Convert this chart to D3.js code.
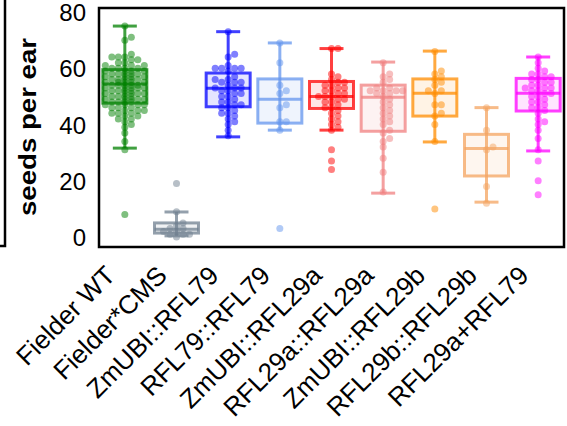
<!DOCTYPE html>
<html>
<head>
<meta charset="utf-8">
<script src="https://cdn.jsdelivr.net/npm/d3@7"></script>
<style>
  body { margin: 0; background: #fff; }
  text { font-family: "Liberation Sans", Arial, sans-serif; fill: #000; }
</style>
</head>
<body>
<svg class="seed_graph" width="567" height="426"></svg>
<script>
var labels = ['Fielder WT', 'Fielder*CMS', 'ZmUBI::RFL79', 'RFL79::RFL79', 'ZmUBI::RFL29a',
  'RFL29a::RFL29a', 'ZmUBI::RFL29b', 'RFL29b::RFL29b', 'RFL29a+RFL79'];
var colors = ['#008000', '#708090', '#0000ff', '#6495ed', '#ff0000',
  '#f08080', '#ff8c00', '#f4a460', '#ff00ff'];
var yTicks = [0, 20, 40, 60, 80];

// box stats
var whiskLo = [31.6, 0.4, 35.6, 38, 38, 15.6, 33.8, 12.4, 30.6];
var q1      = [47.6, 1.4, 46.3, 40.5, 45.7, 37.6, 43, 21.7, 44.8];
var median  = [54.4, 2.8, 52.9, 49, 50, 49.7, 51.1, 31.5, 51.1];
var q3      = [59.5, 5, 58.3, 56.2, 55.3, 54, 56.2, 36.5, 56.4];
var whiskHi = [75, 8.9, 73, 69, 67, 62.2, 66.1, 46, 64];

// seeds per ear, one array per line
var ptsWT = [75, 71, 70, 65, 64, 64, 64, 63, 63, 62, 62, 61, 61, 61, 60, 60, 60, 60, 59, 59, 59,
  59, 58, 58, 58, 58, 58, 57, 57, 57, 57, 56, 56, 56, 56, 56, 55, 55, 55, 55, 55, 54, 54, 54,
  54, 54, 53, 53, 53, 53, 53, 52, 52, 52, 52, 51, 51, 51, 51, 51, 50, 50, 50, 50, 49, 49, 49,
  49, 49, 48, 48, 48, 48, 47, 47, 47, 47, 46, 46, 46, 45, 45, 45, 44, 44, 44, 43, 43, 42, 42,
  41, 40, 39, 37, 34, 31, 8];
var ptsCMS = [19, 9, 5, 4, 3, 3, 2, 2, 1, 1, 1, 0];
var ptsUbi79 = [73, 65, 64, 61, 60, 60, 60, 60, 59, 57, 56, 56, 55, 55, 55, 54, 53, 53, 53, 52,
  52, 51, 51, 50, 50, 49, 48, 48, 47, 47, 46, 46, 45, 44, 44, 43, 42, 41, 40, 38, 36];
var pts79 = [69, 62, 54, 52, 51, 47, 46, 41, 41, 38, 3];
var ptsUbi29a = [67, 67, 58, 57, 56, 55, 55, 54, 54, 53, 53, 52, 52, 51, 51, 50, 50, 50, 49, 49,
  48, 48, 47, 46, 46, 45, 44, 43, 42, 41, 40, 39, 38, 31, 27, 24];
var pts29a = [62, 58, 57, 56, 55, 53, 53, 52, 52, 52, 52, 51, 51, 50, 49, 48, 47, 46, 45, 44,
  43, 42, 41, 40, 38, 37, 35, 34, 32, 28, 23, 16];
var ptsUbi29b = [66, 59, 58, 57, 56, 55, 54, 52, 52, 51, 47, 47, 44, 43, 40, 34, 10];
var pts29b = [46, 38, 32, 31, 18, 12];
var pts29a79 = [64, 62, 60, 59, 58, 58, 57, 57, 56, 56, 55, 55, 54, 54, 53, 53, 53, 52, 52, 51,
  51, 50, 50, 49, 48, 48, 47, 46, 46, 45, 44, 42, 41, 40, 38, 35, 31, 27, 20, 15];

var points = [ptsWT, ptsCMS, ptsUbi79, pts79, ptsUbi29a, pts29a, ptsUbi29b, pts29b, pts29a79];

var frame = {left: 99, right: 564, top: 8, bottom: 247};
var boxWidth = 44,
    capWidth = 24,
    r = 3.5;

var svg = d3.select('.seed_graph');

var x = d3.scaleBand()
    .domain(labels)
    .range([frame.left, frame.right]);

var y = d3.scaleLinear()
    .domain([0, 80])
    .range([237, 12]);

// edge of the neighbouring panel
svg.append('path')
    .attr('d', 'M0,246H5V0')
    .attr('fill', 'none')
    .attr('stroke', '#000')
    .attr('stroke-width', 2.5);

// simple swarm: columns of fixed spacing, first free slot wins
function swarm(values) {
  var step = 6.5, minGap = 5.2, slots = [0, 1, -1, 2, -2, 3, -3];
  var placed = [];
  values.slice().sort(function(a, b) { return a - b; }).forEach(function(v) {
    var py = y(v), best = null, bestD = -1;
    for (var k = 0; k < slots.length; k++) {
      var px = slots[k] * step;
      var d = d3.min(placed, function(p) { return Math.hypot(p.x - px, p.y - py); });
      if (d === undefined) d = Infinity;
      if (d >= minGap) { best = px; break; }
      if (d > bestD) { bestD = d; best = px; }
    }
    placed.push({x: best, y: py, v: v});
  });
  return placed;
}

var group = svg.selectAll('.grp')
    .data(labels)
    .enter().append('g')
    .attr('class', 'grp')
    .attr('transform', function(d) { return 'translate(' + (x(d) + x.bandwidth() / 2) + ',0)'; });

// whiskers
group.append('line')
    .attr('y1', function(d, i) { return y(whiskLo[i]); })
    .attr('y2', function(d, i) { return y(whiskHi[i]); })
    .attr('stroke', function(d, i) { return colors[i]; });

group.selectAll('.cap')
    .data(function(d, i) { return [{i: i, v: whiskLo[i]}, {i: i, v: whiskHi[i]}]; })
    .enter().append('line')
    .attr('class', 'cap')
    .attr('x1', -capWidth / 2)
    .attr('x2', capWidth / 2)
    .attr('y1', function(d) { return y(d.v); })
    .attr('y2', function(d) { return y(d.v); })
    .attr('stroke', function(d) { return colors[d.i]; });

// boxes
group.append('rect')
    .attr('x', -boxWidth / 2)
    .attr('width', boxWidth)
    .attr('y', function(d, i) { return y(q3[i]); })
    .attr('height', function(d, i) { return y(q1[i]) - y(q3[i]); })
    .attr('fill', function(d, i) { return colors[i]; })
    .attr('fill-opacity', 0.1)
    .attr('stroke', function(d, i) { return colors[i]; });

group.append('line')
    .attr('x1', -boxWidth / 2)
    .attr('x2', boxWidth / 2)
    .attr('y1', function(d, i) { return y(median[i]); })
    .attr('y2', function(d, i) { return y(median[i]); })
    .attr('stroke', function(d, i) { return colors[i]; });

group.selectAll('line, rect')
    .attr('stroke-width', 3)
    .attr('stroke-opacity', 0.75);

// points
group.each(function(d, i) {
  d3.select(this).selectAll('circle')
      .data(swarm(points[i]))
      .enter().append('circle')
      .attr('cx', function(p) { return p.x; })
      .attr('cy', function(p) { return p.y; })
      .attr('r', r)
      .attr('fill', colors[i])
      .attr('fill-opacity', 0.5);
});

// frame
svg.append('rect')
    .attr('x', frame.left)
    .attr('y', frame.top)
    .attr('width', frame.right - frame.left)
    .attr('height', frame.bottom - frame.top)
    .attr('fill', 'none')
    .attr('stroke', '#000')
    .attr('stroke-width', 2.5);

var yAxis = svg.append('g')
    .attr('transform', 'translate(' + frame.left + ',0)')
    .call(d3.axisLeft(y).tickValues(yTicks).tickSize(0).tickPadding(13));
yAxis.select('.domain').remove();
yAxis.selectAll('text')
    .attr('dy', '0.36em')
    .style('font-family', '"Liberation Sans", Arial, sans-serif')
    .style('font-size', '24px');

var xAxis = svg.append('g')
    .attr('transform', 'translate(0,' + frame.bottom + ')')
    .call(d3.axisBottom(x).tickSize(0));
xAxis.select('.domain').remove();
xAxis.selectAll('text')
    .attr('x', 0)
    .attr('y', 0)
    .attr('dy', null)
    .attr('text-anchor', 'end')
    .attr('transform', 'translate(-8,30) rotate(-45)')
    .style('font-family', '"Liberation Sans", Arial, sans-serif')
    .style('font-size', '26px');

svg.append('text')
    .attr('transform', 'translate(36,127) rotate(-90)')
    .attr('text-anchor', 'middle')
    .attr('textLength', 178)
    .attr('lengthAdjust', 'spacingAndGlyphs')
    .style('font-weight', 'bold')
    .style('font-size', '24px')
    .text('seeds per ear');
</script>
</body>
</html>
